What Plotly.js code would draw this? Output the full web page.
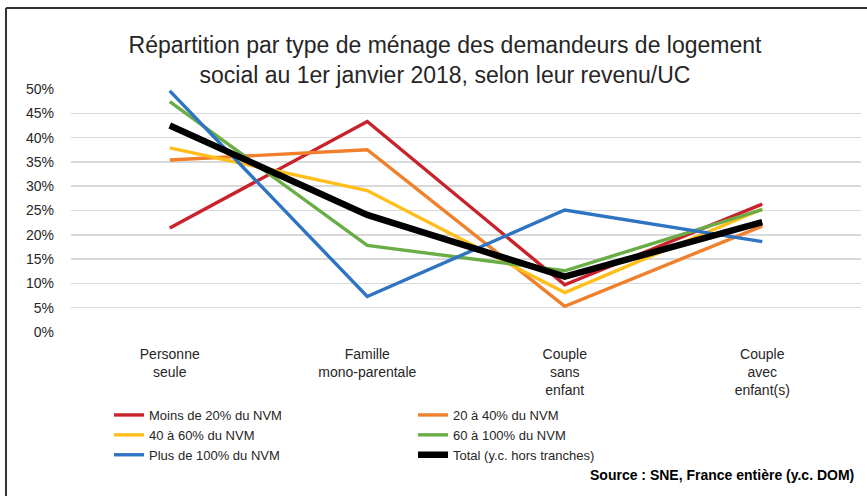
<!DOCTYPE html>
<html>
<head>
<meta charset="utf-8">
<script src="https://cdn.plot.ly/plotly-3.0.1.min.js"></script>
<style>
  html, body { margin: 0; padding: 0; background: #fff; }
  #chart { width: 867px; height: 496px; }
</style>
</head>
<body>
<div id="chart"></div>
<script>
// ---- Data ----
const categories = [
  'Personne<br>seule',
  'Famille<br>mono-parentale',
  'Couple<br>sans<br>enfant',
  'Couple<br>avec<br>enfant(s)'
];
const seriesNames = [
  'Moins de 20% du NVM',
  '20 à 40% du NVM',
  '40 à 60% du NVM',
  '60 à 100% du NVM',
  'Plus de 100% du NVM',
  'Total (y.c. hors tranches)'
];
const moins20   = [0.214, 0.433, 0.097, 0.263];
const de20a40   = [0.354, 0.375, 0.053, 0.218];
const de40a60   = [0.379, 0.291, 0.081, 0.253];
const de60a100  = [0.474, 0.178, 0.126, 0.252];
const plus100   = [0.496, 0.073, 0.251, 0.186];
const total     = [0.425, 0.241, 0.114, 0.226];
const yTickVals = [0, 0.05, 0.10, 0.15, 0.20, 0.25, 0.30, 0.35, 0.40, 0.45, 0.50];

const seriesValues = [moins20, de20a40, de40a60, de60a100, plus100, total];
const colors = ['#C8232B', '#F0802C', '#FFBE1A', '#6AAD46', '#2E74C2', '#000000'];
const widths = [3.4, 3.4, 3.4, 3.4, 3.4, 6.5];

const traces = seriesValues.map((vals, i) => ({
  type: 'scatter',
  mode: 'lines',
  x: categories,
  y: vals,
  name: seriesNames[i],
  line: { color: colors[i], width: widths[i] },
  hoverinfo: 'x+y+name'
}));

// plot area pixels: x 71..861, y 89..332
const L = 71, R = 861, T = 89, B = 332;
const W = R - L, H = B - T;
const px = v => (v - L) / W;
const py = v => (B - v) / H;

const FONT = 'Liberation Sans, Arial, sans-serif';

const layout = {
  width: 867,
  height: 496,
  margin: { l: L, r: 867 - R, t: T, b: 496 - B, pad: 0 },
  paper_bgcolor: '#ffffff',
  plot_bgcolor: '#ffffff',
  font: { family: FONT, color: '#262626', size: 14 },
  title: {
    text: 'Répartition par type de ménage des demandeurs de logement<br>social au 1er janvier 2018, selon leur revenu/UC',
    font: { family: FONT, size: 23, color: '#262626' },
    x: 445 / 867,
    xanchor: 'center',
    xref: 'container',
    y: 1 - 53 / 496,
    yanchor: 'top',
    yref: 'container'
  },
  xaxis: {
    type: 'category',
    range: [-0.5, 3.5],
    showgrid: false,
    zeroline: false,
    showline: false,
    ticks: '',
    ticklabelstandoff: 12,
    tickfont: { family: FONT, size: 14, color: '#262626' },
    fixedrange: true
  },
  yaxis: {
    range: [0, 0.5],
    tickvals: yTickVals,
    tickformat: '.0%',
    showgrid: true,
    gridcolor: '#d9d9d9',
    gridwidth: 1.5,
    zeroline: false,
    showline: false,
    ticks: '',
    ticklabelstandoff: 16,
    tickfont: { family: FONT, size: 14, color: '#262626' },
    fixedrange: true
  },
  showlegend: true,
  legend: {
    orientation: 'h',
    x: px(109),
    xanchor: 'left',
    y: py(400),
    yanchor: 'top',
    entrywidth: 259,
    entrywidthmode: 'pixels',
    font: { family: FONT, size: 13, color: '#262626' },
    bgcolor: 'rgba(0,0,0,0)',
    tracegroupgap: 0
  },
  annotations: [{
    text: '<b>Source : SNE, France entière (y.c. DOM)</b>',
    xref: 'paper', yref: 'paper',
    x: px(856), y: py(475),
    xanchor: 'right', yanchor: 'middle',
    showarrow: false,
    font: { family: FONT, size: 14, color: '#000000' }
  }],
  shapes: [
    { type: 'line', xref: 'paper', yref: 'paper',
      x0: px(6), x1: px(6), y0: py(8), y1: py(500),
      line: { color: '#333333', width: 2 } },
    { type: 'line', xref: 'paper', yref: 'paper',
      x0: px(6), x1: px(870), y0: py(8), y1: py(8),
      line: { color: '#333333', width: 2 } }
  ]
};

Plotly.newPlot('chart', traces, layout, { displayModeBar: false, staticPlot: true });
</script>
</body>
</html>
